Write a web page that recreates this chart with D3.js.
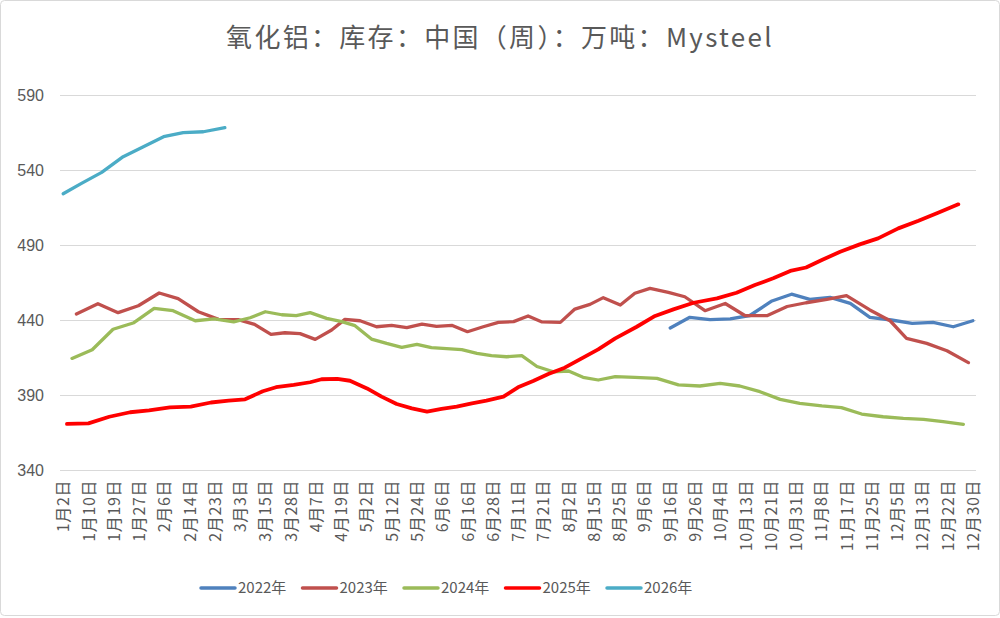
<!DOCTYPE html>
<html><head><meta charset="utf-8">
<script src="https://cdn.jsdelivr.net/npm/d3@7/dist/d3.min.js"></script>
<style>body{margin:0;background:#fff} svg{display:block}</style>
</head><body><svg id="c" width="1000" height="618"></svg>
<script>
// ---- data ----
const titleText = "氧化铝：库存：中国（周）：万吨：Mysteel";
const tickLabels = ["1月2日","1月10日","1月19日","1月27日","2月6日","2月14日","2月23日","3月3日","3月15日","3月28日","4月7日","4月19日","5月2日","5月12日","5月24日","6月6日","6月16日","6月28日","7月11日","7月21日","8月2日","8月15日","8月25日","9月6日","9月16日","9月26日","10月4日","10月13日","10月21日","10月31日","11月8日","11月17日","11月25日","12月5日","12月13日","12月22日","12月30日"];
const categoryCount = 145;      // date slots on the category axis
const labelEvery = 4;           // one label every 4 slots
const yTicks = [340, 390, 440, 490, 540, 590];
const seriesNames = ["2022年", "2023年", "2024年", "2025年", "2026年"];
const seriesColors = ["#4F81BD", "#C0504D", "#9BBB59", "#FF0000", "#4BACC6"];

// slot positions (category index) and values for each year
const slot2022 = [96.1,99.2,102.4,105.6,108.7,112.2,115.3,118.2,121.4,124.6,127.7,131.1,134.4,137.7,140.9,144];
const val2022  = [434.7,441.8,440.2,440.8,443,452.7,457.2,453.8,455.1,451.1,441.8,440,437.8,438.4,435.5,439.5];

const slot2023 = [2.1,5.5,8.7,11.9,15.2,18.2,21.4,24.6,27.7,30.3,32.9,35.1,37.5,39.9,42.5,44.6,47,49.6,52,54.4,56.8,59.1,61.6,64,66.5,68.9,71.3,73.6,75.8,78.7,81,83.4,85.5,88.2,90.5,92.9,95.8,98.4,101.6,104.8,107.9,111.4,114.6,117.6,120.9,124,127.7,130.9,133.5,136.7,139.9,143.3];
const val2023  = [444,450.9,444.9,449.5,458,454.2,445.5,440.4,440.2,437.1,430.4,431.5,430.9,427.1,433.3,440.4,439.5,435.5,436.4,434.9,437.3,435.8,436.4,432.2,435.5,438.4,438.9,442.7,438.7,438.4,447.3,450.4,454.9,450,457.8,461.1,458.4,455.5,446.2,451,443,442.9,449,451.5,453.8,456.2,446.7,439.5,427.8,424.4,419.5,411.6];

const slot2024 = [1.4,4.6,7.9,11.2,14.4,17.4,20.9,23.9,27,29.6,32,34.6,36.9,39.1,41.7,44.1,46.2,48.8,51.2,53.6,56,58.3,60.7,63.1,65.5,67.8,70.2,72.6,75,77.6,80,82.3,84.7,87.4,90.5,94,97.4,100.8,104,107.1,110.3,113.5,116.6,120.1,123.2,126.4,129.8,133,136.2,139.3,142.5];
const val2024  = [414.4,420.2,433.8,438.2,447.8,446.2,439.5,440.7,438.8,441.5,445.5,443.5,442.9,444.9,441.1,438.9,436.2,427.3,424.4,421.8,423.8,421.6,420.9,420.2,417.8,416.2,415.5,416.2,409,405.5,406,401.8,400,402.2,401.8,401.1,396.7,396,397.8,396,392.2,387.1,384.4,382.7,381.6,377.3,375.5,374.4,373.8,372.2,370.4];

const slot2025 = [0.6,4,7.3,10.6,13.6,16.9,20.2,23.4,26.2,28.8,31.6,33.7,36.5,39.1,40.9,43.4,45.4,48.1,50.4,52.8,55.2,57.6,59.9,62.3,64.7,67,69.7,72,74.4,76.8,79.4,81.8,84.7,87.4,90.8,93.7,96.6,99.8,103.5,106.6,109.5,112.4,115.1,117.6,120.1,123,126.1,129,132.2,135.4,138.5,141.7];
const val2025  = [370.7,371.1,375.5,378.5,379.7,381.7,382.2,385,386.2,387.1,392.5,395.2,396.7,398.5,400.5,400.7,399.5,394.4,388.9,384,381.1,378.9,380.7,382.2,384.4,386.2,388.9,395.1,399.3,404,408.2,413.8,420.4,427.8,435.5,442.7,447.1,451.5,454.4,458.2,463.3,467.8,472.7,475,480,485.5,490.4,494.4,501.1,506.2,511.5,517.1];

const slot2026 = [0,2.9,6.1,9.5,12.7,15.9,19,22.2,25.6];
const val2026  = [524.2,531.1,538.4,548.9,555.5,562.2,564.9,565.5,568.2];

const seriesSlots = [slot2022, slot2023, slot2024, slot2025, slot2026];
const seriesVals = [val2022, val2023, val2024, val2025, val2026];
const seriesWidths = [3.3, 3.3, 3.3, 3.8, 3.3];

// ---- drawing ----
const svg = d3.select("#c");
const W = 1000, H = 618;
const plot = {left: 60, right: 976, top: 95, bottom: 470};
const textColor = "#595959";

svg.append("rect").attr("x", 0.5).attr("y", 0.5).attr("width", W - 1).attr("height", H - 3)
  .attr("rx", 4).attr("fill", "#fff").attr("stroke", "#d9d9d9");

svg.append("text").attr("x", W / 2).attr("y", 47).attr("text-anchor", "middle")
  .attr("font-family", "'Noto Sans CJK SC', sans-serif").attr("font-size", 26)
  .attr("letter-spacing", 2.3)
  .attr("fill", textColor).text(titleText);

const x = d3.scaleLinear().domain([-0.5, categoryCount - 0.5]).range([plot.left, plot.right]);
const y = d3.scaleLinear().domain([340, 590]).range([plot.bottom, plot.top]);

// y axis with gridlines
const gy = svg.append("g").attr("transform", `translate(${plot.left},0)`)
  .call(d3.axisLeft(y).tickValues(yTicks).tickSize(-(plot.right - plot.left)).tickPadding(16));
gy.select(".domain").remove();
gy.selectAll(".tick line").attr("stroke", "#d9d9d9").attr("stroke-width", 1);
gy.selectAll(".tick text").attr("font-family", "'Liberation Sans', Arial, sans-serif")
  .attr("font-size", 16).attr("fill", textColor);

// x axis labels
const labelSlots = tickLabels.map((_, i) => i * labelEvery);
const gx = svg.append("g").attr("transform", `translate(0,${plot.bottom})`)
  .call(d3.axisBottom(x).tickValues(labelSlots).tickSize(0)
    .tickFormat((d, i) => tickLabels[i]));
gx.select(".domain").remove();
gx.selectAll(".tick text")
  .attr("font-family", "'Noto Sans CJK SC', sans-serif").attr("font-size", 16)
  .attr("letter-spacing", 0.6)
  .attr("fill", textColor)
  .attr("transform", "rotate(-90)")
  .attr("text-anchor", "end")
  .attr("x", -10).attr("y", 0).attr("dy", "0.35em");

// lines
const line = d3.line().x(d => x(d[0])).y(d => y(d[1]));
seriesNames.forEach((name, i) => {
  svg.append("path")
    .datum(d3.zip(seriesSlots[i], seriesVals[i]))
    .attr("d", line)
    .attr("fill", "none")
    .attr("stroke", seriesColors[i])
    .attr("stroke-width", seriesWidths[i])
    .attr("stroke-linejoin", "round")
    .attr("stroke-linecap", "round");
});

// legend
const legend = svg.append("g").attr("transform", "translate(200,588)");
seriesNames.forEach((name, i) => {
  const g = legend.append("g").attr("transform", `translate(${i * 101.5},0)`);
  g.append("line").attr("x1", 1).attr("x2", 35).attr("y1", 0).attr("y2", 0)
    .attr("stroke", seriesColors[i]).attr("stroke-width", 3.5).attr("stroke-linecap", "round");
  g.append("text").attr("x", 38).attr("y", 0).attr("dy", "0.35em")
    .attr("font-family", "'Noto Sans CJK SC', sans-serif").attr("font-size", 15)
    .attr("fill", textColor).text(name);
});
</script>
</body></html>
